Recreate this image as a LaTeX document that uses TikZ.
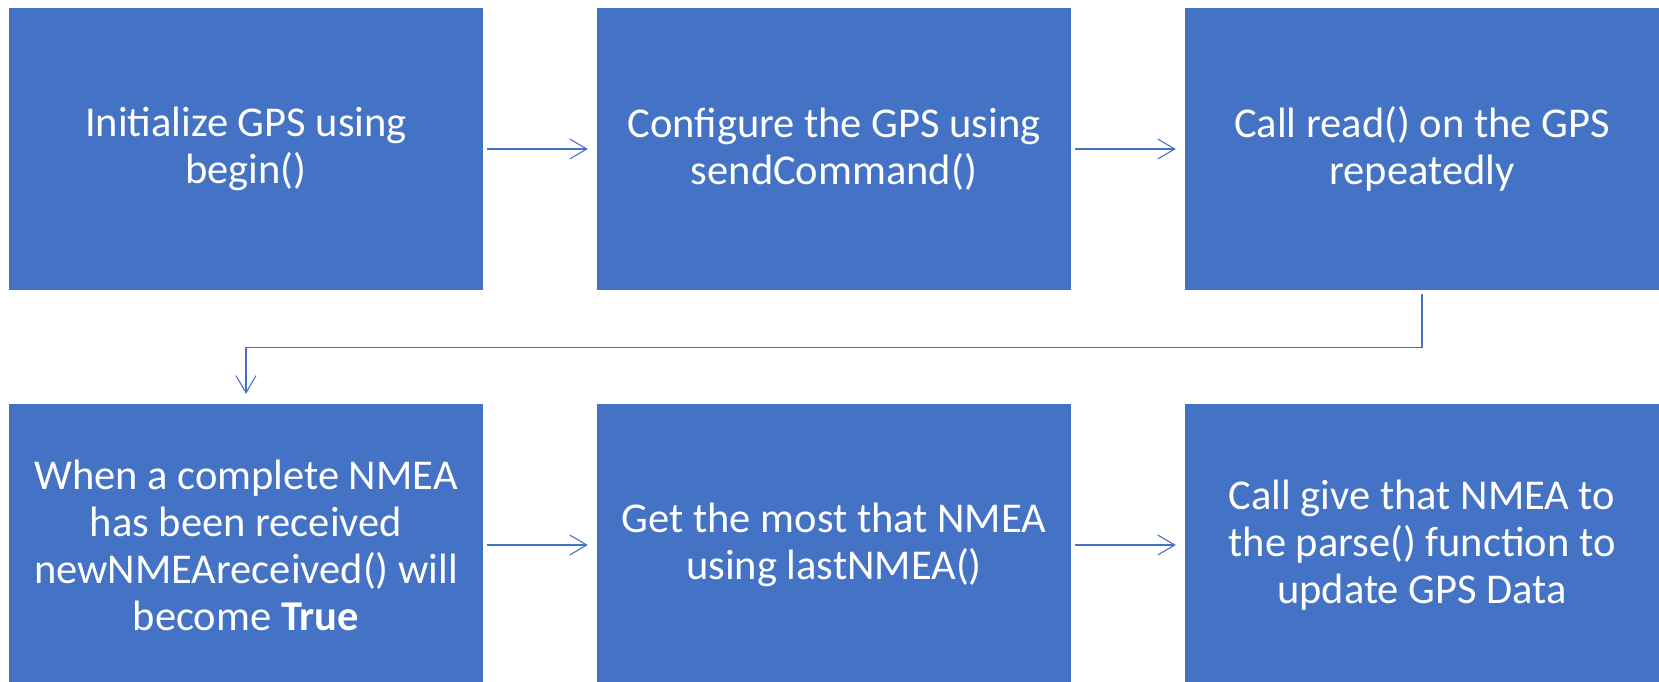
\documentclass[tikz,border=0pt]{standalone}
\usepackage{fontspec}
\setmainfont{Carlito}
\usetikzlibrary{arrows.meta}
\definecolor{boxblue}{HTML}{4472C4}
\begin{document}
\begin{tikzpicture}[x=1pt,y=-1pt,
  stepbox/.style={fill=boxblue, draw=none, minimum width=474pt, minimum height=282pt,
    align=center, text=white, font=\fontsize{42.5}{47}\selectfont, inner sep=0pt},
  conn/.style={draw=boxblue, line width=1.1pt,
    -{Straight Barb[length=17pt,width=20pt,line width=1.1pt]}}]
\useasboundingbox (0,0) rectangle (1659,682);
\node[stepbox] (a) at (246,149) {Initialize GPS using\\begin()};
\node[stepbox] (b) at (834,149) {Configure the GPS using\\sendCommand()};
\node[stepbox] (c) at (1422,149) {Call read() on the GPS\\repeatedly};
\node[stepbox] (d) at (246,545) {When a complete NMEA\\has been received\\newNMEAreceived() will\\become \textbf{True}};
\node[stepbox] (e) at (834,545) {Get the most that NMEA\\using lastNMEA()};
\node[stepbox] (f) at (1422,545) {Call give that NMEA to\\the parse() function to\\update GPS Data};
\draw[conn, shorten <=4pt, shorten >=9pt] (a) -- (b);
\draw[conn, shorten <=4pt, shorten >=9pt] (b) -- (c);
\draw[conn, shorten <=4pt, shorten >=9pt] (d) -- (e);
\draw[conn, shorten <=4pt, shorten >=9pt] (e) -- (f);
\draw[conn, shorten >=10pt] ([yshift=-4pt]c.south) -- ([yshift=-57pt]c.south) -| (d.north);
\end{tikzpicture}
\end{document}
